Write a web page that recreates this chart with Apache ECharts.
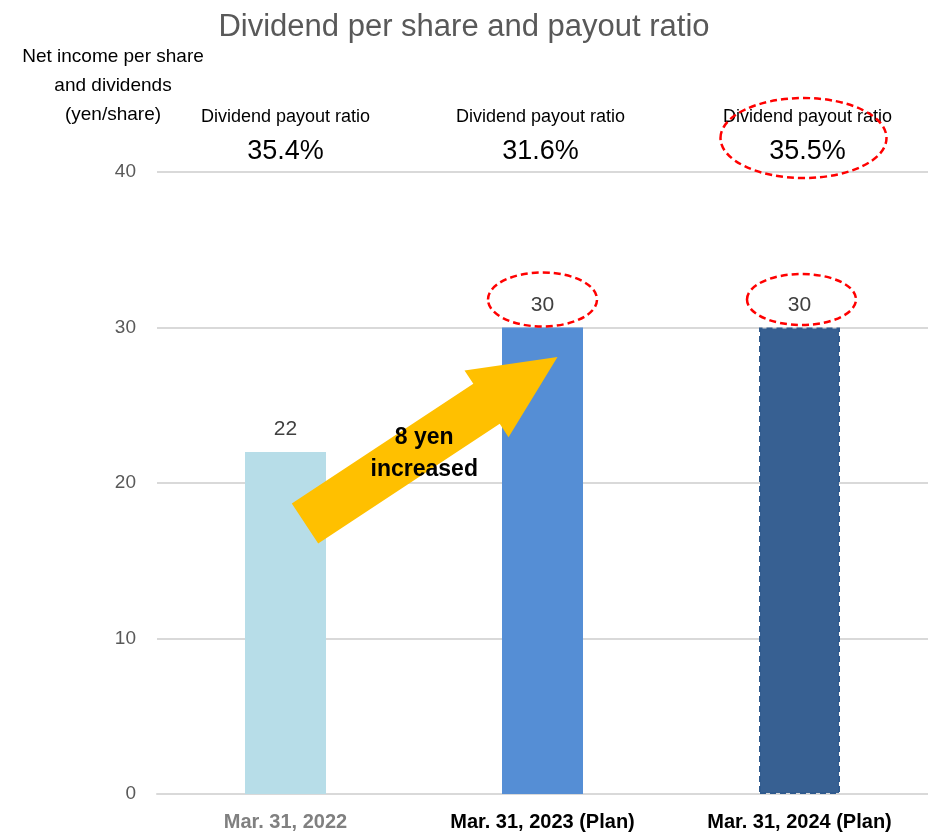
<!DOCTYPE html>
<html>
<head>
<meta charset="utf-8">
<script src="https://cdn.jsdelivr.net/npm/echarts@6/dist/echarts.min.js"></script>
<style>html,body{margin:0;padding:0;background:#fff}#c{width:928px;height:834px}</style>
</head>
<body>
<div id="c"></div>
<script>
const categories = ['Mar. 31, 2022', 'Mar. 31, 2023 (Plan)', 'Mar. 31, 2024 (Plan)'];
const dividends = [22, 30, 30];
const payoutRatios = ['35.4%', '31.6%', '35.5%'];
const yTicks = [0, 10, 20, 30, 40];
const barColors = ['#B7DDE8', '#558ED5', '#376092'];
const labelColors = ['#808080', '#000000', '#000000'];

const FONT = '"Liberation Sans Narrow","Arial Narrow","Liberation Sans",sans-serif';
const chart = echarts.init(document.getElementById('c'), null, {renderer: 'canvas'});

chart.setOption({
  animation: false,
  backgroundColor: '#ffffff',
  title: {
    text: 'Dividend per share and payout ratio',
    left: 'center', top: 7,
    textStyle: {fontFamily: FONT, fontSize: 31, fontWeight: 'normal', color: '#595959'}
  },
  grid: {left: 157, right: -2, top: 172, bottom: 40, containLabel: false},
  xAxis: {
    type: 'category',
    data: categories,
    axisLine: {lineStyle: {color: '#D9D9D9', width: 2}},
    axisTick: {show: false},
    axisLabel: {
      margin: 18,
      fontFamily: FONT, fontSize: 20, fontWeight: 'bold',
      color: function (v, i) { return labelColors[i]; }
    }
  },
  yAxis: {
    type: 'value',
    min: yTicks[0], max: yTicks[yTicks.length - 1], interval: 10,
    axisLine: {show: false},
    axisTick: {show: false},
    splitLine: {lineStyle: {color: '#D9D9D9', width: 2}},
    axisLabel: {margin: 21, fontFamily: FONT, fontSize: 19, color: '#595959'}
  },
  series: [{
    type: 'bar',
    barWidth: 81,
    z: 2,
    data: dividends.map(function (v, i) {
      const item = {value: v, itemStyle: {color: barColors[i]}};
      if (i === 2) {
        item.itemStyle.borderColor = '#2F5A8E';
        item.itemStyle.borderWidth = 2;
        item.itemStyle.borderType = [6, 4];
      }
      return item;
    }),
    label: {
      show: true, position: 'top', distance: 12,
      fontFamily: FONT, fontSize: 21, color: '#404040'
    }
  }]
});

// Annotations positioned from the chart's own scales
function px(cat, val) { return chart.convertToPixel({gridIndex: 0}, [cat, val]); }

const graphics = [];

// Y axis name
graphics.push({
  type: 'text', x: 113, y: 42, z: 100,
  style: {
    text: 'Net income per share\nand dividends\n(yen/share)',
    fontFamily: FONT, fontSize: 19, fill: '#000', align: 'center', verticalAlign: 'top', lineHeight: 29
  }
});

// Payout ratio texts above each category
const payoutOffsets = [0, -2, 8];
categories.forEach(function (c, i) {
  const p = px(i, 40);
  graphics.push({
    type: 'text', x: p[0] + payoutOffsets[i], y: p[1] - 55, z: 100,
    style: {text: 'Dividend payout ratio', fontFamily: FONT, fontSize: 18, fill: '#000', align: 'center', verticalAlign: 'middle'}
  });
  graphics.push({
    type: 'text', x: p[0] + payoutOffsets[i], y: p[1] - 20, z: 100,
    style: {text: payoutRatios[i], fontFamily: FONT, fontSize: 27, fill: '#000', align: 'center', verticalAlign: 'middle'}
  });
});

// Red dashed ellipses
const redStyle = {fill: 'none', stroke: '#FF0000', lineWidth: 2.5, lineDash: [7, 4]};
[1, 2].forEach(function (i) {
  const p = px(i, dividends[i]);
  graphics.push({type: 'ellipse', z: 100, shape: {cx: p[0] + (i === 2 ? 2 : 0), cy: p[1] - 28, rx: 54.5, ry: i === 1 ? 27 : 25.5}, style: redStyle});
});
(function () {
  const p = px(2, 40);
  graphics.push({type: 'ellipse', z: 100, shape: {cx: p[0] + 4, cy: p[1] - 34, rx: 83, ry: 40}, style: redStyle});
})();

// Yellow arrow from first bar to second bar
(function () {
  const a = px(0, 17.4), b = px(1, 28.1);
  const tail = [a[0] + 19.5, a[1]];
  const tip = [b[0] + 15, b[1]];
  const dx = tip[0] - tail[0], dy = tip[1] - tail[1];
  const L = Math.sqrt(dx * dx + dy * dy);
  const ux = dx / L, uy = dy / L, nx = -uy, ny = ux;
  const sw = 24, hw = 40, hl = 85;
  const base = [tip[0] - ux * hl, tip[1] - uy * hl];
  const pts = [
    [tail[0] + nx * sw, tail[1] + ny * sw],
    [base[0] + nx * sw, base[1] + ny * sw],
    [base[0] + nx * hw, base[1] + ny * hw],
    tip,
    [base[0] - nx * hw, base[1] - ny * hw],
    [base[0] - nx * sw, base[1] - ny * sw],
    [tail[0] - nx * sw, tail[1] - ny * sw]
  ];
  graphics.push({type: 'polygon', z: 100, shape: {points: pts}, style: {fill: '#FFC000'}});
  graphics.push({
    type: 'text', z: 101, x: (tail[0] + tip[0]) / 2 - 7, y: (tail[1] + tip[1]) / 2 + 13,
    style: {text: '8 yen\nincreased', fontFamily: FONT, fontSize: 23, fontWeight: 'bold', fill: '#000', align: 'center', verticalAlign: 'middle', lineHeight: 32}
  });
})();

chart.setOption({graphic: graphics});
</script>
</body>
</html>
